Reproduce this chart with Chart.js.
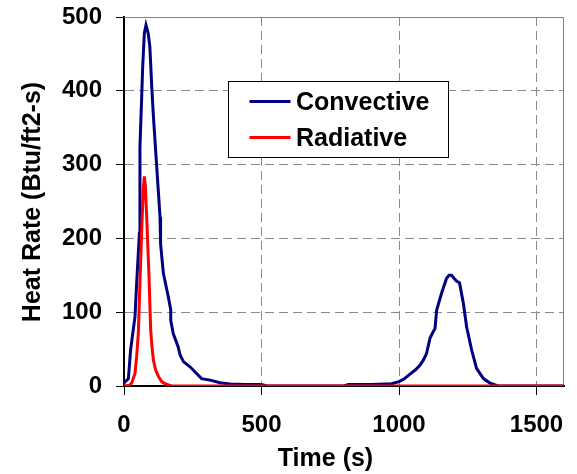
<!DOCTYPE html>
<html>
<head>
<meta charset="utf-8">
<script src="https://cdn.jsdelivr.net/npm/chart.js@4"></script>
<style>
  html, body { margin: 0; padding: 0; background: #fff; }
  #wrap { position: relative; width: 577px; height: 474px; }
</style>
</head>
<body>
<div id="wrap"><canvas id="heatChart" width="577" height="474"></canvas></div>
<script>
// series (time in s, rate in Btu/ft2-s)
const SERIES_NAMES = ['Convective', 'Radiative'];
const SERIES_COLORS = ['#000080', '#FF0000'];

const CONV_TIME = [0, 16, 24, 40, 46, 56, 58, 64, 68, 74, 80, 88, 94, 101, 107, 119, 131, 133, 143, 161, 170, 170, 179, 197, 204, 216, 240, 264, 282, 313, 349, 385, 440, 500, 520, 800, 816, 900, 973, 1000, 1016, 1040, 1060, 1076, 1090, 1100, 1113, 1125, 1131, 1137, 1155, 1173, 1182, 1191, 1200, 1210, 1220, 1234, 1246, 1264, 1282, 1307, 1331, 1361, 1600];
const CONV_RATE = [4, 10, 49, 94, 139, 207, 324, 388, 433, 478, 489, 478, 460, 405, 365, 297, 229, 193, 153, 121, 103, 89, 71, 53, 42, 33, 26, 17, 10, 8, 4.5, 2.7, 2, 2, 0, 0, 2, 2, 3, 6, 9, 16, 22, 28, 36, 44, 65, 74, 78, 103, 126, 146, 150, 150, 146, 142, 140, 112, 80, 49, 24, 10, 4, 0, 0];

const RAD_TIME = [0, 20, 28, 40, 46, 52, 58, 64, 70, 74, 78, 82, 87, 91, 97, 102, 107, 115, 125, 137, 149, 173, 1600];
const RAD_RATE = [0, 1, 4, 17, 40, 71, 140, 207, 265, 284, 270, 234, 185, 148, 76, 52, 35, 22, 13, 6, 3, 0, 0];

const X_TICKS = [0, 500, 1000, 1500];
const Y_TICKS = [0, 100, 200, 300, 400, 500];
const X_MAX = 1600;
const X_TITLE = 'Time (s)';
const Y_TITLE = 'Heat Rate (Btu/ft2-s)';

const FONT_FAMILY = '"Liberation Sans", Arial, sans-serif';

function toPoints(times, rates) {
  return times.map((t, i) => ({x: t, y: rates[i]}));
}

// gray frame on top/right, axis titles, boxed legend inside the plot
const decorations = {
  id: 'decorations',
  beforeDatasetsDraw(chart) {
    const {ctx, chartArea: a} = chart;
    ctx.save();
    ctx.strokeStyle = '#808080';
    ctx.lineWidth = 1;
    ctx.beginPath();
    ctx.moveTo(a.left, a.top + 0.5);
    ctx.lineTo(a.right - 0.5, a.top + 0.5);
    ctx.lineTo(a.right - 0.5, a.bottom);
    ctx.stroke();
    ctx.restore();
  },
  afterDraw(chart) {
    const {ctx, chartArea: a} = chart;
    ctx.save();
    ctx.fillStyle = '#000';
    ctx.font = 'bold 25px ' + FONT_FAMILY;
    ctx.textBaseline = 'alphabetic';
    ctx.textAlign = 'center';

    // x title
    ctx.fillText(X_TITLE, a.left + 201.5, a.bottom + 80);

    // y title
    ctx.save();
    ctx.translate(39.5, a.top + 185);
    ctx.rotate(-Math.PI / 2);
    ctx.fillText(Y_TITLE, 0, 0);
    ctx.restore();

    // legend
    const bx = a.left + 104.5, by = a.top + 64.5;
    ctx.fillStyle = '#fff';
    ctx.fillRect(bx, by, 220, 76);
    ctx.strokeStyle = '#000';
    ctx.lineWidth = 1;
    ctx.strokeRect(bx, by, 220, 76);

    ctx.textAlign = 'left';
    chart.data.datasets.forEach((ds, i) => {
      const base = by + 28.5 + i * 36;
      ctx.strokeStyle = ds.borderColor;
      ctx.lineWidth = 3;
      ctx.beginPath();
      ctx.moveTo(bx + 21, base - 8.5);
      ctx.lineTo(bx + 62, base - 8.5);
      ctx.stroke();
      ctx.fillStyle = '#000';
      ctx.fillText(ds.label, bx + 67.5, base);
    });
    ctx.restore();
  }
};

const tickFont = {family: FONT_FAMILY, size: 24, weight: 'bold'};

new Chart(document.getElementById('heatChart'), {
  type: 'line',
  data: {
    datasets: [
      {
        label: SERIES_NAMES[0],
        data: toPoints(CONV_TIME, CONV_RATE),
        borderColor: SERIES_COLORS[0],
        borderWidth: 3,
        pointRadius: 0,
        tension: 0,
        fill: false,
        order: 1
      },
      {
        label: SERIES_NAMES[1],
        data: toPoints(RAD_TIME, RAD_RATE),
        borderColor: SERIES_COLORS[1],
        borderWidth: 3,
        pointRadius: 0,
        tension: 0,
        fill: false,
        order: 0
      }
    ]
  },
  options: {
    responsive: false,
    animation: false,
    devicePixelRatio: 1,
    layout: {padding: {top: 17, right: 13, left: 0, bottom: 0}},
    plugins: {legend: {display: false}, tooltip: {enabled: false}},
    scales: {
      x: {
        type: 'linear',
        min: 0,
        max: X_MAX,
        afterBuildTicks: (s) => { s.ticks = X_TICKS.map(v => ({value: v})); },
        afterFit: (s) => { s.height = 88; s.paddingLeft = 0; s.paddingRight = 0; },
        grid: {color: '#8a8a8a', lineWidth: 1, tickColor: '#000', tickLength: 9, tickWidth: 1},
        border: {color: '#000', width: 2, dash: [9, 5]},
        ticks: {color: '#000', font: tickFont, padding: 16, maxRotation: 0, autoSkip: false, callback: v => String(v)}
      },
      y: {
        min: 0,
        max: 500,
        afterBuildTicks: (s) => { s.ticks = Y_TICKS.map(v => ({value: v})); },
        afterFit: (s) => { s.width = 124; s.paddingTop = 0; s.paddingBottom = 0; },
        grid: {color: '#8a8a8a', lineWidth: 1, tickColor: '#000', tickLength: 8, tickWidth: 1},
        border: {color: '#000', width: 2, dash: [9, 5]},
        ticks: {color: '#000', font: tickFont, padding: 14, callback: v => String(v)}
      }
    }
  },
  plugins: [decorations]
});
</script>
</body>
</html>
